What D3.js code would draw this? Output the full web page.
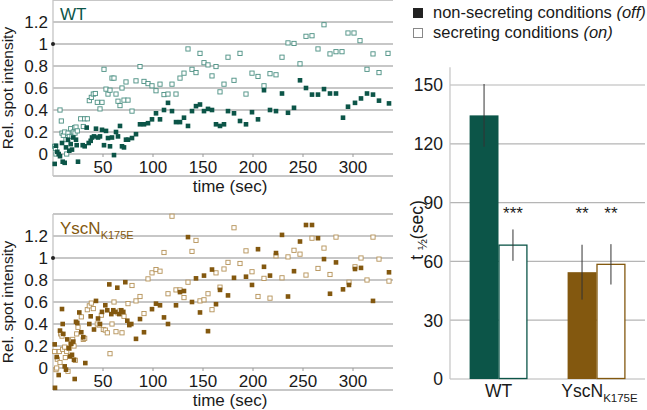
<!DOCTYPE html>
<html><head><meta charset="utf-8">
<script src="https://cdn.jsdelivr.net/npm/d3@7"></script>
<style>body{margin:0;background:#fff}svg{display:block;font-family:"Liberation Sans",Arial,sans-serif}</style>
</head><body><svg id="c" width="647" height="410"></svg>
<script>
// ---- data ----
const wtOff = [[1.7,-0.09],[3,0.075],[4.3,0.02],[5.7,0.0],[7,-0.02],[9,0.10],[9.7,-0.07],[11.7,-0.08],[13,0.06],[15,0.13],[16.3,0.03],[17.7,0.09],[19,0.04],[20.3,0.15],[23,0.13],[23.7,0.08],[25,-0.07],[29.7,0.08],[31.7,0.07],[33.7,0.24],[35.7,0.10],[37.7,0.12],[39,0.15],[41,0.16],[43,0.23],[45,0.15],[47,0.16],[49,0.22],[51,0.08],[53,0.21],[55,0.145],[57,0.07],[59,0.15],[61,-0.01],[63,0.2],[65,0.16],[67,0.255],[69,0.07],[71,0.06],[73,0.13],[75,0.13],[79,0.145],[83,0.18],[87,0.27],[91,0.27],[95,0.28],[99,0.315],[103,0.37],[107,0.315],[111,0.4],[115,0.465],[119,0.39],[123,0.29],[127,0.29],[131,0.33],[135,0.255],[139,0.39],[143,0.435],[147,0.45],[151,0.39],[155,0.41],[159,0.40],[163,0.27],[167,0.255],[171,0.27],[175,0.39],[181,0.37],[187,0.30],[193,0.27],[199,0.38],[205,0.315],[211,0.58],[217,0.40],[223,0.39],[229,0.55],[235,0.375],[241,0.42],[247,0.67],[253,0.60],[259,0.54],[265,0.54],[271,0.59],[277,0.55],[283,0.55],[290,0.33],[295,0.43],[302,0.465],[308,0.505],[314,0.55],[320,0.54],[326,0.485],[336,0.46]];
const wtOn = [[1.7,0.07],[2.5,0.05],[3,0.0],[7,0.40],[8.3,0.30],[9,0.19],[10.3,0.17],[11.7,0.2],[13,0.13],[13.7,0.0],[15,0.19],[16.3,0.16],[17.7,0.23],[19,0.16],[20.3,0.2],[21.7,0.24],[22,0.19],[23,0.245],[24.3,0.21],[27.7,0.32],[30.3,0.25],[31.7,0.32],[34.3,0.32],[36.3,0.485],[38.3,0.515],[40.3,0.545],[42.3,0.55],[44.3,0.47],[47,0.41],[49,0.47],[51,0.77],[53,0.59],[55,0.545],[57,0.58],[59,0.69],[61,0.69],[63,0.545],[65,0.48],[67,0.44],[69,0.6],[71,0.49],[73,0.655],[75,0.49],[79,0.39],[83,0.665],[87,0.795],[91,0.66],[95,0.64],[99,0.62],[103,0.575],[107,0.635],[111,0.54],[115,0.545],[119,0.635],[123,0.545],[127,0.69],[131,0.735],[135,0.955],[139,0.77],[143,0.74],[147,0.915],[151,0.83],[155,0.81],[159,0.71],[163,0.795],[167,0.565],[171,0.635],[175,0.88],[181,0.67],[187,0.915],[193,0.545],[199,0.735],[205,0.705],[211,0.62],[217,0.73],[223,0.72],[229,0.88],[235,1.01],[241,1.005],[247,0.82],[253,1.07],[259,1.075],[265,0.955],[271,1.175],[277,0.91],[283,0.93],[289,0.93],[295,1.10],[301,1.10],[307,1.03],[314,0.77],[320,0.91],[326,0.74],[335,0.915]];
const yscOff = [[1.7,0.215],[2,-0.18],[3.7,0.10],[5.7,-0.064],[7,0.34],[9,0.536],[9.7,0.40],[10.3,0.31],[11.7,0.015],[13,-0.015],[14.3,0.26],[15.7,0.18],[17,0.105],[18.3,0.22],[19,0.12],[20.3,0.24],[21,0.075],[21.7,-0.1],[23,0.42],[24.3,0.41],[26.3,0.505],[28.3,0.325],[30.3,0.28],[32.3,0.045],[36.3,0.40],[37.7,0.47],[41,0.35],[43,0.61],[45,0.45],[47,0.40],[49,0.51],[52.3,0.57],[54.3,0.525],[56.3,0.76],[58.3,0.49],[60.3,0.525],[62.3,0.51],[64.3,0.73],[66.3,0.49],[68.3,0.525],[70.3,0.51],[72.3,0.78],[74.3,0.43],[76.3,0.39],[78.3,0.40],[83,0.265],[87,0.445],[91,0.325],[99,0.535],[103,0.585],[107,0.57],[111,0.46],[115,0.40],[123,0.57],[127,0.69],[131,0.70],[135,1.19],[139,0.60],[143,0.815],[147,0.505],[151,0.84],[155,0.335],[159,0.895],[163,0.58],[167,0.71],[175,0.66],[181,0.82],[193,0.83],[199,0.755],[205,1.08],[211,0.92],[217,0.84],[223,1.045],[229,1.21],[235,0.65],[241,0.88],[247,1.15],[253,1.30],[259,1.30],[265,1.18],[271,0.99],[277,0.675],[283,0.96],[290,0.715],[296,0.755],[302,0.90],[308,0.91],[320,0.61],[336,0.87]];
const yscOn = [[1.7,0.15],[3,-0.015],[3.7,0.0],[4.3,0.08],[6.3,0.15],[7,0.05],[7.7,0.31],[9,0.29],[9.7,0.17],[11.7,0.19],[12.3,0.095],[13.7,0.15],[15,-0.03],[16.3,0.18],[17.7,0.215],[19.7,0.26],[21,0.2],[22.3,0.07],[23.7,0.31],[25,0.37],[28.3,0.465],[30.3,0.26],[31.7,0.27],[34.3,0.53],[36.3,0.565],[38.3,0.59],[40.3,0.54],[44.3,0.40],[46.3,0.39],[48.3,0.48],[50.3,0.35],[52.3,0.345],[54.3,0.32],[57,0.13],[59,0.40],[61,0.60],[63,0.33],[65,0.5],[67,0.52],[69,0.32],[71,0.47],[75,0.585],[79,0.75],[83,0.61],[87,0.65],[91,0.495],[95,0.81],[99,0.865],[103,0.895],[107,0.88],[111,1.05],[115,0.675],[119,1.38],[123,0.71],[127,0.71],[131,0.64],[135,0.78],[139,1.06],[143,1.16],[147,0.61],[151,0.62],[155,0.675],[159,0.53],[163,0.865],[167,0.735],[171,0.90],[175,0.96],[181,1.275],[187,0.95],[193,1.065],[199,0.875],[205,0.65],[211,0.815],[217,0.635],[223,1.02],[229,0.82],[235,1.01],[241,1.07],[247,1.035],[253,0.845],[259,1.18],[265,0.905],[271,1.09],[277,0.85],[283,1.19],[296,0.78],[302,0.92],[308,1.0],[314,0.80],[320,1.19],[326,0.99],[336,0.79]];
const startPoint = [[0,1]];
const yTicks = [0,0.2,0.4,0.6,0.8,1,1.2];
const gridVals = [-0.2,0,0.2,0.4,0.6,0.8,1,1.2,1.4];
const xTicks = [50,100,150,200,250,300];

const groups = ["WT","YscN"];
const conditions = ["off","on"];
const halfTime = {WT:[134.5,68.3], YscN:[54.5,58.5]};
const halfErr  = {WT:[16,8], YscN:[14,10.3]};
const stars    = {WT:["","***"], YscN:["**","**"]};
const barTicks = [0,30,60,90,120,150];

// ---- styling ----
const teal="#0c5548", tealLight="#4a8f82", brown="#83580f", brownLight="#b59258";
const gridC="#b5b5b5", txt="#1a1a1a";
const svg=d3.select("#c");

const x=d3.scaleLinear().domain([0,340]).range([53,393]);
function panel(y0, off, on, col, colLight, label){
  const y=d3.scaleLinear().domain([-0.2,1.4]).range([y0+176,y0]);
  const g=svg.append("g");
  g.selectAll("line.grid").data(gridVals).join("line")
    .attr("x1",x(0)).attr("x2",x(340)).attr("y1",d=>y(d)).attr("y2",d=>y(d))
    .attr("stroke",gridC).attr("stroke-width",1.3);
  g.append("line").attr("x1",x(0)).attr("x2",x(0)).attr("y1",y(1.4)).attr("y2",y(-0.2))
    .attr("stroke","#c4c4c4").attr("stroke-width",1.3);
  g.selectAll("text.yt").data(yTicks).join("text")
    .attr("x",48).attr("y",d=>y(d)).attr("dy","0.36em").attr("text-anchor","end")
    .attr("font-size",17).attr("fill",txt).text(d=>d3.format("~g")(d));
  g.selectAll("line.xt").data(xTicks).join("line")
    .attr("x1",d=>x(d)).attr("x2",d=>x(d)).attr("y1",y(0)).attr("y2",y(0)+3)
    .attr("stroke","#999");
  g.selectAll("text.xt").data(xTicks).join("text")
    .attr("x",d=>x(d)).attr("y",y(0)+19).attr("text-anchor","middle")
    .attr("font-size",17).attr("fill",txt).text(d=>d);
  g.append("text").attr("x",230).attr("y",y0+192).attr("text-anchor","middle")
    .attr("font-size",17).attr("fill",txt).text("time (sec)");
  g.append("text").attr("transform",`translate(13,${y0+88}) rotate(-90)`).attr("text-anchor","middle")
    .attr("font-size",15.5).attr("fill",txt).text("Rel. spot intensity");
  const s=4.2;
  g.selectAll("rect.on").data(on).join("rect")
    .attr("x",d=>x(d[0])-s/2).attr("y",d=>y(d[1])-s/2).attr("width",s).attr("height",s)
    .attr("fill","#fff").attr("stroke",colLight).attr("stroke-width",0.9);
  g.selectAll("rect.off").data(off).join("rect")
    .attr("x",d=>x(d[0])-2.3).attr("y",d=>y(d[1])-2.3).attr("width",4.6).attr("height",4.6)
    .attr("fill",col);
  g.selectAll("circle.st").data(startPoint).join("circle")
    .attr("cx",d=>x(d[0])).attr("cy",d=>y(d[1])).attr("r",2).attr("fill","#222");
  const t=g.append("text").attr("x",60).attr("y",y0+20).attr("font-size",17).attr("fill",col);
  t.append("tspan").text(label[0]);
  if(label[1]) t.append("tspan").attr("dy",5).attr("font-size",11).text(label[1]);
}
panel(0, wtOff, wtOn, teal, tealLight, ["WT"]);
panel(214, yscOff, yscOn, brown, brownLight, ["YscN","K175E"]);

// ---- bar chart ----
const xb=d3.scaleBand().domain(groups).range([450,645]).paddingInner(0.41).paddingOuter(0.2);
const xs=d3.scaleBand().domain(conditions).range([0,xb.bandwidth()]);
const yb=d3.scaleLinear().domain([0,160]).range([379,65.4]);
const bg=svg.append("g");
bg.selectAll("line.g").data(barTicks).join("line")
  .attr("x1",450).attr("x2",645).attr("y1",d=>yb(d)).attr("y2",d=>yb(d))
  .attr("stroke",gridC).attr("stroke-width",1.2);
bg.append("line").attr("x1",450).attr("x2",450).attr("y1",yb(159)).attr("y2",yb(0))
  .attr("stroke","#c4c4c4").attr("stroke-width",1.2);
bg.selectAll("text.t").data(barTicks).join("text")
  .attr("x",443).attr("y",d=>yb(d)).attr("dy","0.36em").attr("text-anchor","end")
  .attr("font-size",17.5).attr("fill",txt).text(d=>d);
const barColor={WT:teal,YscN:brown};
const bars=[];
groups.forEach(g=>conditions.forEach((c,i)=>bars.push({g,c,v:halfTime[g][i],e:halfErr[g][i],s:stars[g][i]})));
bg.selectAll("rect.b").data(bars).join("rect")
  .attr("x",d=>xb(d.g)+xs(d.c)+(d.c==="on"?0.5:0)).attr("width",d=>xs.bandwidth()-(d.c==="on"?1:0))
  .attr("y",d=>yb(d.v)).attr("height",d=>yb(0)-yb(d.v)-(d.c==="on"?0.5:0))
  .attr("fill",d=>d.c==="off"?barColor[d.g]:"#fff")
  .attr("stroke",d=>d.c==="off"?"none":barColor[d.g]).attr("stroke-width",1.3);
bg.selectAll("line.e").data(bars).join("line")
  .attr("x1",d=>xb(d.g)+xs(d.c)+xs.bandwidth()/2).attr("x2",d=>xb(d.g)+xs(d.c)+xs.bandwidth()/2)
  .attr("y1",d=>yb(d.v+d.e)).attr("y2",d=>yb(d.v-d.e)).attr("stroke","#333").attr("stroke-width",1);
bg.selectAll("text.s").data(bars).join("text")
  .attr("x",d=>xb(d.g)+xs(d.c)+xs.bandwidth()/2).attr("y",219).attr("text-anchor","middle")
  .attr("font-size",17).attr("fill","#222").text(d=>d.s);
bg.selectAll("text.c").data(groups).join("text")
  .attr("x",d=>xb(d)+xb.bandwidth()/2+(d==="YscN"?3:0)).attr("y",397).attr("text-anchor","middle")
  .attr("font-size",17.5).attr("fill",txt)
  .each(function(d){const t=d3.select(this);t.append("tspan").text(d);
    if(d==="YscN") t.append("tspan").attr("dy",5).attr("font-size",11.5).text("K175E");});
const yl=bg.append("text").attr("transform","translate(423,230) rotate(-90)").attr("text-anchor","middle")
  .attr("font-size",17.5).attr("fill",txt);
yl.append("tspan").text("t ");
yl.append("tspan").attr("dy",4).attr("font-size",13).text("½");
yl.append("tspan").attr("dy",-4).text("(sec)");

// ---- legend ----
const leg=svg.append("g");
leg.append("rect").attr("x",413).attr("y",8).attr("width",10).attr("height",10).attr("fill","#222");
leg.append("rect").attr("x",413.5).attr("y",28.5).attr("width",9).attr("height",9).attr("fill","#fff").attr("stroke","#888");
const l1=leg.append("text").attr("x",433).attr("y",18).attr("font-size",16.5).attr("fill",txt);
l1.append("tspan").text("non-secreting conditions ");
l1.append("tspan").attr("font-style","italic").text("(off)");
const l2=leg.append("text").attr("x",433).attr("y",38).attr("font-size",16.5).attr("fill",txt);
l2.append("tspan").text("secreting conditions ");
l2.append("tspan").attr("font-style","italic").text("(on)");
</script></body></html>
